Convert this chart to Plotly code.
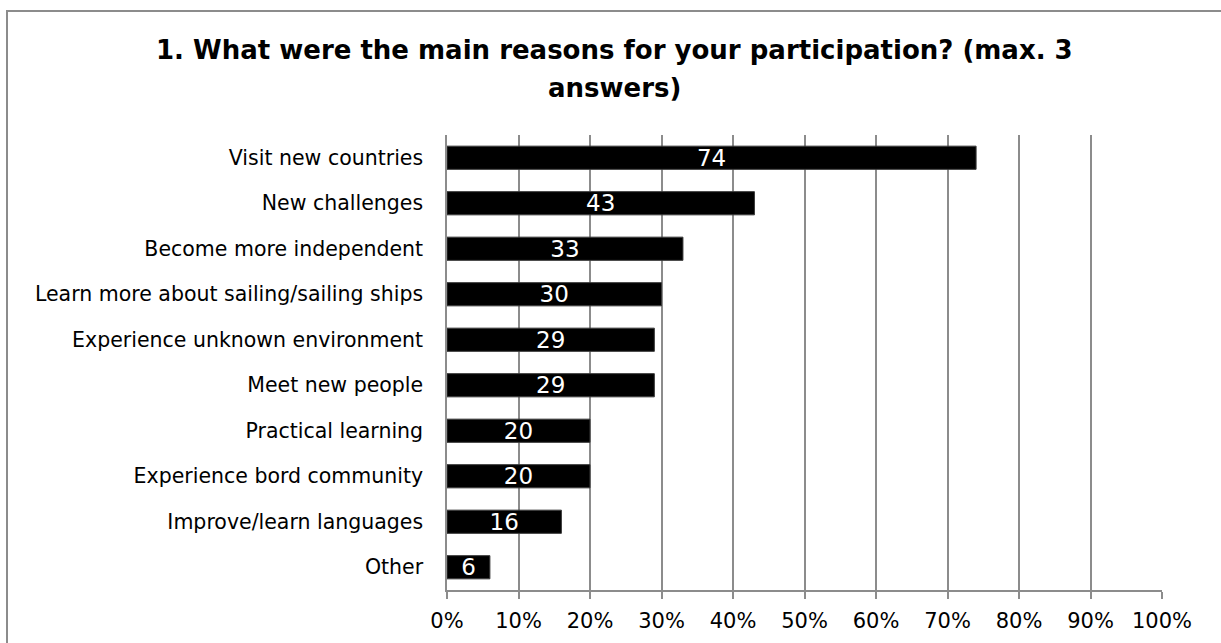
import plotly.graph_objects as go

categories = [
    "Visit new countries",
    "New challenges",
    "Become more independent",
    "Learn more about sailing/sailing ships",
    "Experience unknown environment",
    "Meet new people",
    "Practical learning",
    "Experience bord community",
    "Improve/learn languages",
    "Other",
]
values = [74, 43, 33, 30, 29, 29, 20, 20, 16, 6]
title_line1 = "1. What were the main reasons for your participation? (max. 3"
title_line2 = "answers)"

FONT = "DejaVu Sans"
GRID = "#8c8c8c"

fig = go.Figure(
    go.Bar(
        x=values,
        y=categories,
        orientation="h",
        marker=dict(color="black", line=dict(color="#3a3a3a", width=1)),
        text=[str(v) for v in values],
        textposition="inside",
        insidetextanchor="middle",
        textangle=0,
        textfont=dict(color="white", size=23, family=FONT),
        constraintext="none",
        cliponaxis=False,
    )
)

W, H = 1221, 643
L, R, T, B = 447, 59, 135, 53
pw, ph = W - L - R, H - T - B

def px(x):
    return (x - L) / pw

def py(y):
    return (H - B - y) / ph

fig.update_layout(
    width=W,
    height=H,
    margin=dict(l=L, r=R, t=T, b=B, pad=0, autoexpand=False),
    paper_bgcolor="white",
    plot_bgcolor="white",
    bargap=0.49,
    showlegend=False,
    font=dict(family=FONT, color="black"),
    uniformtext=dict(minsize=23, mode="show"),
    xaxis=dict(
        range=[0, 100],
        dtick=10,
        ticksuffix="%",
        automargin=False,
        showgrid=True,
        gridcolor=GRID,
        gridwidth=1.5,
        showline=True,
        linecolor=GRID,
        linewidth=2,
        ticks="outside",
        ticklen=7,
        tickwidth=1.5,
        tickcolor=GRID,
        tickfont=dict(size=21, family=FONT, color="black"),
        ticklabelstandoff=4,
        zeroline=False,
        fixedrange=True,
    ),
    yaxis=dict(
        autorange="reversed",
        automargin=False,
        showline=True,
        linecolor=GRID,
        linewidth=1.5,
        ticks="",
        tickfont=dict(size=20.5, family=FONT, color="black"),
        ticklabelstandoff=18,
        showgrid=False,
        fixedrange=True,
    ),
    annotations=[
        dict(text="<b>" + title_line1 + "</b>", xref="paper", yref="paper",
             x=px(614), y=py(50), xanchor="center", yanchor="middle",
             showarrow=False, font=dict(size=26, family=FONT, color="black")),
        dict(text="<b>" + title_line2 + "</b>", xref="paper", yref="paper",
             x=px(614), y=py(88), xanchor="center", yanchor="middle",
             showarrow=False, font=dict(size=26, family=FONT, color="black")),
    ],
    shapes=[
        dict(type="rect", xref="paper", yref="paper",
             x0=px(7), x1=px(1230), y0=py(660), y1=py(11),
             line=dict(color=GRID, width=2), fillcolor="rgba(0,0,0,0)", layer="below"),
    ],
)

fig.write_html("out.html", config=dict(displayModeBar=False))
